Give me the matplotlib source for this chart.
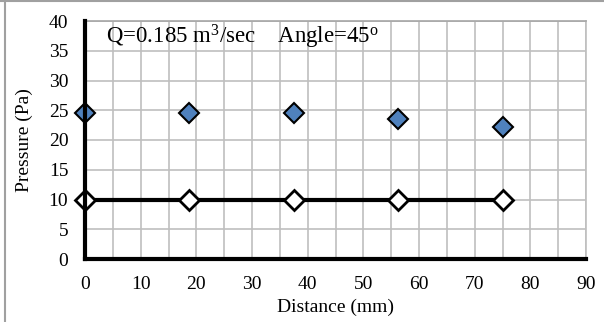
import matplotlib
matplotlib.use("Agg")
import matplotlib.pyplot as plt
from matplotlib.lines import Line2D

# data
distance = [0, 18.75, 37.5, 56.25, 75]
pressure_measured = [24.5, 24.5, 24.5, 23.6, 22.2]
pressure_line = [10, 10, 10, 10, 10]
xticks = list(range(0, 91, 10))
yticks = list(range(0, 41, 5))

plt.rcParams['font.family'] = ['Liberation Serif', 'DejaVu Serif']
plt.rcParams['mathtext.fontset'] = 'custom'
plt.rcParams['mathtext.rm'] = 'Liberation Serif'
plt.rcParams['mathtext.it'] = 'Liberation Serif:italic'

fig = plt.figure(figsize=(6.04, 3.22), dpi=100)

# chart border (only left and top visible in the crop)
fig.add_artist(Line2D([4.5/604, 4.5/604], [0, 1], color='#a0a0a0', lw=1.5))
fig.add_artist(Line2D([0, 1], [1 - 0.8/322, 1 - 0.8/322], color='#a0a0a0', lw=1.5))

ax = fig.add_axes([85/604, 63/322, 501/604, 238/322])

ax.plot(distance, pressure_line, '-', color='black', lw=3, zorder=3,
        marker='D', markersize=10, markerfacecolor='white',
        markeredgecolor='black', markeredgewidth=2, clip_on=False)
ax.plot(distance, pressure_measured, 'D', markersize=10,
        markerfacecolor='#4f81bd', markeredgecolor='black',
        markeredgewidth=1.5, zorder=4, clip_on=False)

ax.set_xlim(0, 90)
ax.set_ylim(0, 40)
ax.set_xticks(list(range(0, 91, 5)), minor=True)
ax.set_xticks(xticks)
ax.set_yticks(yticks)
ax.grid(True, which='both', axis='x', color='#bfbfbf', lw=1.2)
ax.grid(True, which='major', axis='y', color='#bfbfbf', lw=1.2)
ax.set_axisbelow(True)
ax.tick_params(which='both', length=0, labelsize=14)
ax.tick_params(axis='x', pad=12)
ax.tick_params(axis='y', pad=12)

ax.spines['top'].set_color('#a6a6a6')
ax.spines['right'].set_color('#bfbfbf')
for s in ['top', 'right']:
    ax.spines[s].set_linewidth(1.2)
for s in ['left', 'bottom']:
    ax.spines[s].set_color('black')
    ax.spines[s].set_linewidth(3)
    ax.spines[s].set_zorder(5)

ax.set_xlabel('Distance (mm)', fontsize=14, labelpad=4)
ax.set_ylabel('Pressure (Pa)', fontsize=14, labelpad=11)

ax.text(3.8, 37.3, r'Q=0.185 m$^3$/sec    Angle=45$^\mathrm{o}$', fontsize=16.5,
        va='center', ha='left')

fig.savefig('out.png', dpi=100)
